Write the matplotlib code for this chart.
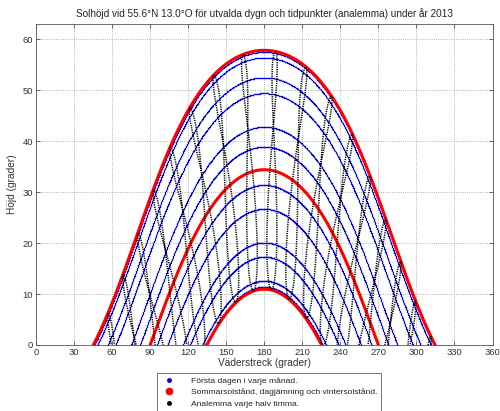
import numpy as np
import matplotlib
matplotlib.use('Agg')
import matplotlib.pyplot as plt
from matplotlib.lines import Line2D

plt.rcParams['font.family'] = ['Liberation Sans', 'DejaVu Sans']

# Site
LAT = 55.6   # deg N
LON = 13.0   # deg E
TZ_MERIDIAN = 15.0  # CET

# Declination (deg) on the first day of each month, 2013
month_first_decl = [-23.0, -17.1, -7.7, 4.5, 15.0, 22.0,
                    23.1, 18.1, 8.4, -3.0, -14.3, -21.8]
# Summer solstice, equinox, winter solstice
special_decl = [23.44, 0.0, -23.44]

# Analemma table: declination (deg) and equation of time (min), 1st/11th/21st of each month
ana_decl = [-23.0, -21.8, -20.0, -17.1, -14.1, -10.7, -7.7, -3.9, 0.1,
            4.5, 8.3, 11.8, 15.0, 17.8, 20.1, 22.0, 23.1, 23.4,
            23.1, 22.0, 20.5, 18.1, 15.4, 12.3, 8.4, 4.7, 0.9,
            -3.0, -6.9, -10.6, -14.3, -17.4, -19.9, -21.8, -23.0, -23.4, -23.1]
ana_eot = [-3.3, -7.8, -11.1, -13.5, -14.2, -13.6, -12.4, -10.2, -7.3,
           -4.0, -1.1, 1.1, 2.8, 3.6, 3.5, 2.2, 0.6, -1.5,
           -3.7, -5.4, -6.3, -6.3, -5.3, -3.3, -0.1, 3.1, 6.6,
           10.1, 13.0, 15.2, 16.4, 16.0, 14.2, 11.1, 6.9, 2.1, -2.7]
# clock times (CET), at half past every hour
ana_times = np.arange(0.5, 24, 1.0)


def sun_pos(decl, ha):
    """Azimuth (from north) and altitude in degrees from declination and hour angle."""
    phi = np.radians(LAT)
    d = np.radians(decl)
    h = np.radians(ha)
    alt = np.arcsin(np.sin(phi) * np.sin(d) + np.cos(phi) * np.cos(d) * np.cos(h))
    az = np.arctan2(np.sin(h), np.cos(h) * np.sin(phi) - np.tan(d) * np.cos(phi))
    return np.degrees(az) + 180, np.degrees(alt)


fig = plt.figure(figsize=(5.0, 4.11), dpi=100)
ax = fig.add_axes([0.072, 0.1606, 0.913, 0.781])

ha_day = np.arange(-180, 180.01, 0.25)
for dec in month_first_decl:
    az, alt = sun_pos(dec, ha_day)
    ax.plot(az, alt, '.', color='#0000e0', ms=1.9, mew=0)

for dec in special_decl:
    az, alt = sun_pos(dec, ha_day)
    ax.plot(az, alt, '-', color='#ff0000', lw=2.2)

for t in ana_times:
    ha = 15 * (t - 12) + (LON - TZ_MERIDIAN) + np.array(ana_eot) / 4
    az, alt = sun_pos(np.array(ana_decl), ha)
    ok = alt > -5
    if ok.sum() < 2:
        continue
    ax.plot(az[ok], alt[ok], color='k', lw=1.1, dashes=(0.8, 0.7))

ax.set_xlim(0, 360)
ax.set_ylim(0, 63)
ax.set_xticks(np.arange(0, 361, 30))
ax.set_yticks(np.arange(0, 61, 10))
ax.tick_params(direction='in', top=True, right=True, labelsize=6.8, length=3,
               width=0.5, colors='#333333', pad=2)
ax.grid(True, ls=':', color='#999999', lw=0.6)
for sp in ax.spines.values():
    sp.set_linewidth(0.6)
    sp.set_color('#555555')

ax.set_xlabel('Väderstreck (grader)', fontsize=7.3, color='#333333', labelpad=1)
ax.set_ylabel('Höjd (grader)', fontsize=7.3, color='#333333', labelpad=4)
ax.set_title('Solhöjd vid 55.6°N 13.0°O för utvalda dygn och tidpunkter (analemma) under år 2013',
             fontsize=7.2, color='#222222', pad=5)

handles = [
    Line2D([], [], ls='none', marker='.', color='#0000e0', ms=5),
    Line2D([], [], ls='none', marker='.', color='#ff0000', ms=9),
    Line2D([], [], ls='none', marker='.', color='k', ms=5),
]
labels = ['Första dagen i varje månad.',
          'Sommarsolstånd, dagjämning och vintersolstånd.',
          'Analemma varje halv timma.']
leg = fig.legend(handles, labels, loc='upper left', bbox_to_anchor=(0.306, 0.102),
                 fontsize=6.1, frameon=True, fancybox=False, edgecolor='#333333',
                 borderpad=0.4, labelspacing=0.45, handletextpad=1.6, handlelength=2.0)
leg.get_frame().set_linewidth(0.6)
for txt in leg.get_texts():
    txt.set_color('#222222')

fig.savefig('out.png', dpi=100)
